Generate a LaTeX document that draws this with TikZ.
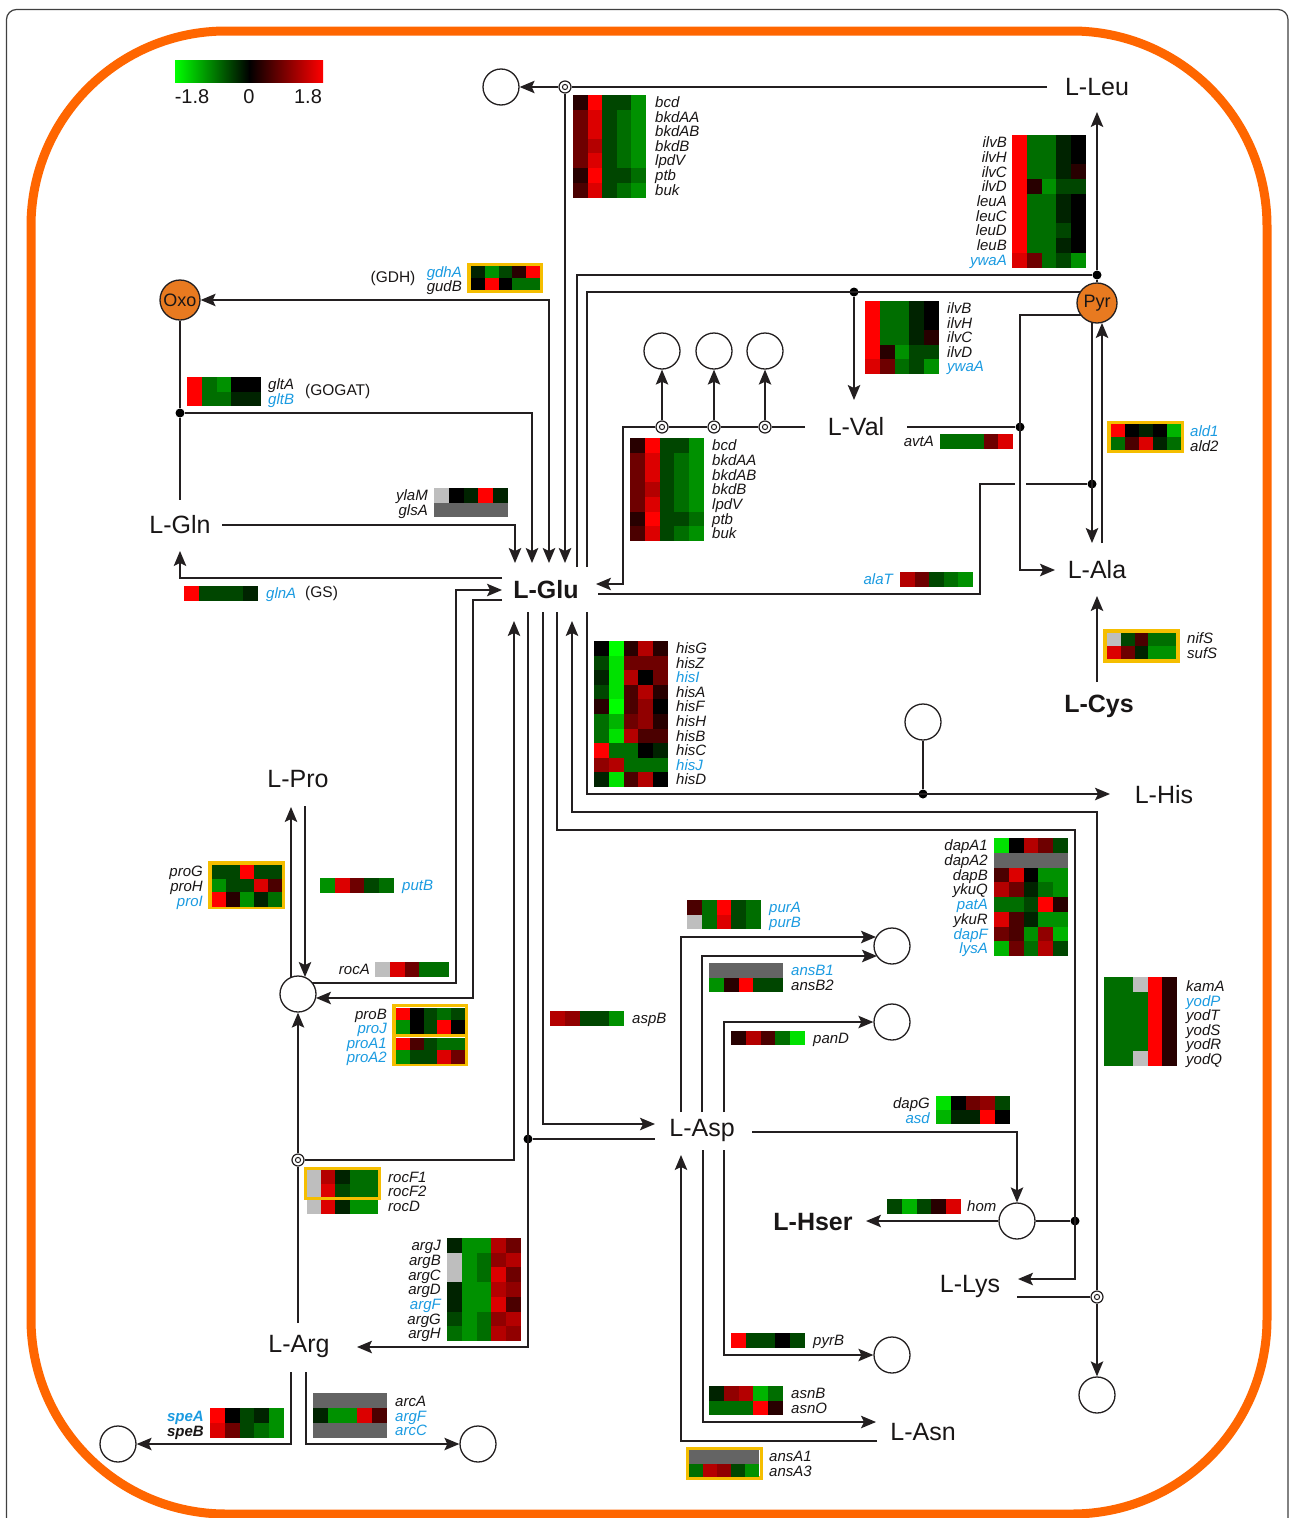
\documentclass[tikz,border=0pt]{standalone}
\usepackage{fontspec}
\setmainfont{Liberation Sans}
\usetikzlibrary{arrows.meta}
\definecolor{cR}{RGB}{255,0,0}
\definecolor{cr2}{RGB}{220,0,0}
\definecolor{cr3}{RGB}{180,0,0}
\definecolor{cr4}{RGB}{145,0,0}
\definecolor{cr5}{RGB}{110,0,0}
\definecolor{cr6}{RGB}{75,0,0}
\definecolor{cr7}{RGB}{40,0,0}
\definecolor{cK}{RGB}{0,0,0}
\definecolor{cg1}{RGB}{0,35,0}
\definecolor{cg2}{RGB}{0,70,0}
\definecolor{cg3}{RGB}{0,110,0}
\definecolor{cg4}{RGB}{0,145,0}
\definecolor{cg5}{RGB}{0,180,0}
\definecolor{cg6}{RGB}{0,225,0}
\definecolor{cG}{RGB}{0,255,0}
\definecolor{cL}{RGB}{190,190,190}
\definecolor{cD}{RGB}{100,100,100}
\definecolor{gk}{RGB}{25,22,22}
\definecolor{gb}{RGB}{27,155,225}
\definecolor{oframe}{RGB}{255,102,0}
\definecolor{pfill}{RGB}{232,122,32}
\definecolor{yfr}{RGB}{245,190,0}
\definecolor{lc}{RGB}{35,31,32}
\newcommand{\heat}[5]{\foreach \row [count=\ri] in {#5}{\foreach \cc [count=\ci] in \row {\fill[\cc] ({#1+(\ci-1)*#3},{#2+(\ri-1)*#4}) rectangle ++({#3+0.4},{#4+0.4});}}}
\newcommand{\genes}[6]{\foreach \cl/\nm [count=\i] in {#6}{\node[gene,text=\cl,anchor=#5] (#1\i) at (#2,{#3+(\i-0.5)*#4}) {\nm};}}
\begin{document}
\begin{tikzpicture}[x=1pt,y=-1pt,
  ln/.style={draw=lc,line width=1.4pt},
  arr/.style={ln,-{Stealth[length=15pt,width=12.5pt,inset=3pt]}},
  dbl/.style={ln,{Stealth[length=15pt,width=12.5pt,inset=3pt]}-{Stealth[length=15pt,width=12.5pt,inset=3pt]}},
  gene/.style={font=\fontsize{15}{15}\selectfont\itshape,inner sep=0pt,text height=10.5pt,text depth=0pt},
  plain/.style={font=\fontsize{15.5}{15}\selectfont,inner sep=0pt,text=gk,text height=10.5pt,text depth=2.5pt},
  met/.style={font=\fontsize{25}{25}\selectfont,inner sep=0pt,text=gk},
  bmet/.style={font=\fontsize{25}{25}\selectfont\bfseries,inner sep=0pt,text=gk},
  pool/.style={circle,draw=lc,line width=1.3pt,fill=white,minimum size=36pt,inner sep=0pt},
  hub/.style={circle,draw=lc,line width=1.3pt,fill=pfill,minimum size=40pt,inner sep=0pt,font=\fontsize{18}{18}\selectfont,text=gk},
  ring/.style={circle,draw=lc,line width=1.2pt,fill=white,minimum size=12pt,inner sep=0pt,
     path picture={\draw[lc,line width=1pt] (path picture bounding box.center) circle (2.6pt);}},
  dot/.style={circle,fill=black,minimum size=9pt,inner sep=0pt},
  yframe/.style={draw=yfr,line width=3.6pt}]
\useasboundingbox (0,0) rectangle (1290,1518);
\fill[white] (0,0) rectangle (1290,1518);
% frames
\draw[draw=black!75,line width=1.2pt,rounded corners=10pt] (6.5,9.5) rectangle (1288,1570);
\draw[draw=oframe,line width=9pt,rounded corners=195pt] (31,31) rectangle (1267,1514);
% legend
\shade[left color=cG,right color=cK] (175,60) rectangle (249.5,82);
\shade[left color=cK,right color=cR] (249,60) rectangle (323,82);
\node[font=\fontsize{20}{20}\selectfont,text=gk,inner sep=0pt] (lg1) at (192,97) {-1.8};
\node[font=\fontsize{20}{20}\selectfont,text=gk,inner sep=0pt] (lg2) at (249,97) {0};
\node[font=\fontsize{20}{20}\selectfont,text=gk,inner sep=0pt] (lg3) at (308,97) {1.8};

% metabolites
\node[met] (Leu) at (1097,87) {L-Leu};
\node[met] (Gln) at (180,525) {L-Gln};
\node[bmet] (Glu) at (546,590) {L-Glu};
\node[met] (Val) at (856,427) {L-Val};
\node[met] (Ala) at (1097,570) {L-Ala};
\node[bmet] (Cys) at (1099,706) {L-Cys};
\node[met] (His) at (1164,795) {L-His};
\node[met] (Pro) at (298,779) {L-Pro};
\node[met] (Asp) at (702,1130) {L-Asp};
\node[bmet] (Hser) at (813,1222) {L-Hser};
\node[met] (Lys) at (970,1286) {L-Lys};
\node[met] (Arg) at (299,1346) {L-Arg};
\node[met] (Asn) at (923,1432) {L-Asn};
\node[hub] (Oxo) at (180,300) {Oxo};
\node[hub] (Pyr) at (1097,303) {Pyr};

% pools
\node[pool] (c1) at (501,87) {};
\node[pool] (c2) at (662,351) {};
\node[pool] (c3) at (714,351) {};
\node[pool] (c4) at (765,351) {};
\node[pool] (c5) at (923,722) {};
\node[pool] (P5C) at (298,994) {};
\node[pool] (c6) at (892,946) {};
\node[pool] (c7) at (892,1022) {};
\node[pool] (c8) at (1017,1221) {};
\node[pool] (c9) at (892,1355) {};
\node[pool] (c10) at (1097,1395) {};
\node[pool] (c11) at (118,1444) {};
\node[pool] (c12) at (478,1444) {};
% rings
\node[ring] (r1) at (565,87) {};
\node[ring] (rV1) at (662,427) {};
\node[ring] (rV2) at (714,427) {};
\node[ring] (rV3) at (765,427) {};
\node[ring] (rA) at (298,1160) {};
\node[ring] (rK) at (1097,1297) {};
% dots
\node[dot] (dG) at (180,413) {};
\node[dot] (dL) at (1097,275) {};
\node[dot] (dV) at (854,292) {};
\node[dot] (dVa) at (1020,427) {};
\node[dot] (dA) at (1092,484) {};
\node[dot] (dH) at (923,794) {};
\node[dot] (dK) at (1075,1221) {};
\node[dot] (dAs) at (528,1139) {};

% coordinates
\coordinate (gT1) at (515,563); \coordinate (gT2) at (532,563);
\coordinate (gT3) at (549,563); \coordinate (gT4) at (565,563);
\coordinate (gT5) at (577,567); \coordinate (gT6) at (587,567);
\coordinate (gB1) at (514,621); \coordinate (gB2) at (528,612);
\coordinate (gB3) at (543,612); \coordinate (gB4) at (557,612);
\coordinate (gB5) at (572,621); \coordinate (gB6) at (587,612);
\coordinate (gL1) at (502,590); \coordinate (gL2) at (502,600);
\coordinate (gL3) at (502,578);
\coordinate (gR1) at (596,584); \coordinate (gR2) at (598,594);
\coordinate (leuW) at (1047,87); \coordinate (leuS) at (1097,112);
\coordinate (pyrW) at (1080,292); \coordinate (pyrS) at (1081,315);
\coordinate (valN) at (854,400); \coordinate (valW) at (805,427); \coordinate (valE) at (907,427);
\coordinate (glnN) at (180,500); \coordinate (glnE) at (222,525); \coordinate (glnS) at (180,551);
\coordinate (alaW) at (1055,570); \coordinate (hop1) at (1015,484); \coordinate (hop2) at (1026,484);
\coordinate (pyrB1) at (1092,322); \coordinate (alaN1) at (1092,543);
\coordinate (alaN2) at (1102,543); \coordinate (pyrB2) at (1102,323);
\coordinate (cysN) at (1097,682); \coordinate (alaS) at (1097,596);
\coordinate (hisW) at (1110,794);
\coordinate (lysE1) at (1018,1279); \coordinate (lysE2) at (1017,1297);
\coordinate (aspW1) at (655,1124); \coordinate (aspW2) at (655,1139);
\coordinate (argE) at (357,1347); \coordinate (argN) at (298,1323);
\coordinate (argS1) at (291,1372); \coordinate (argS2) at (306,1372);
\coordinate (p5cE1) at (312,983); \coordinate (p5cE2) at (316,998);
\coordinate (p5cN1) at (291,977); \coordinate (proS1) at (291,807);
\coordinate (proS2) at (305,806); \coordinate (p5cN2) at (305,977);
\coordinate (aspN1) at (681,1112); \coordinate (aspN2) at (702,1112); \coordinate (aspN3) at (724,1112);
\coordinate (aspS1) at (681,1155); \coordinate (aspS2) at (703,1150); \coordinate (aspS3) at (724,1150);
\coordinate (aspE) at (752,1132);
\coordinate (c6w1) at (876,937); \coordinate (c6w2) at (877,956);
\coordinate (hserE) at (866,1221);
\coordinate (asnW1) at (876,1422); \coordinate (asnW2) at (877,1441);

% connectors
\draw[ln] (leuW) -- (r1);
\draw[arr] (r1) -- (c1);
\draw[arr] (r1) -- (gT4);
\draw[ln] (gT5) -- (577,275) -- (dL);
\draw[arr] (dL) -- (leuS);
\draw[ln] (Pyr) -- (dL);
\draw[ln] (gT6) -- (587,292) -- (pyrW);
\draw[arr] (dV) -- (valN);
\draw[dbl] (Oxo) -- (549,300) -- (gT3);
\draw[ln] (Oxo) -- (dG) -- (glnN);
\draw[arr] (dG) -- (532,413) -- (gT2);
\draw[arr] (glnE) -- (515,525) -- (gT1);
\draw[arr] (gL3) -- (180,578) -- (glnS);
\draw[ln] (valW) -- (rV3);
\draw[ln] (rV3) -- (rV2);
\draw[ln] (rV2) -- (rV1);
\draw[arr] (rV1) -- (623,427) -- (623,584) -- (gR1);
\draw[arr] (rV1) -- (c2);
\draw[arr] (rV2) -- (c3);
\draw[arr] (rV3) -- (c4);
\draw[ln] (valE) -- (dVa);
\draw[arr] (pyrS) -- (1020,315) -- (1020,570) -- (alaW);
\draw[ln] (gR2) -- (980,594) -- (980,484) -- (hop1);
\draw[ln] (hop2) -- (dA);
\draw[arr] (pyrB1) -- (alaN1);
\draw[arr] (alaN2) -- (pyrB2);
\draw[arr] (cysN) -- (alaS);
\draw[arr] (gB6) -- (587,794) -- (hisW);
\draw[ln] (c5) -- (dH);
\draw[arr] (rK) -- (1097,812) -- (572,812) -- (gB5);
\draw[ln] (lysE2) -- (rK);
\draw[arr] (rK) -- (c10);
\draw[arr] (gB4) -- (557,830) -- (1075,830) -- (1075,1279) -- (lysE1);
\draw[ln] (c8) -- (dK);
\draw[arr] (gB3) -- (543,1124) -- (aspW1);
\draw[arr] (gB2) -- (528,1347) -- (argE);
\draw[ln] (dAs) -- (aspW2);
\draw[ln] (argN) -- (rA);
\draw[arr] (rA) -- (P5C);
\draw[arr] (rA) -- (514,1160) -- (gB1);
\draw[arr] (p5cE1) -- (456,983) -- (456,590) -- (gL1);
\draw[arr] (gL2) -- (473,600) -- (473,998) -- (p5cE2);
\draw[arr] (p5cN1) -- (proS1);
\draw[arr] (proS2) -- (p5cN2);
\draw[arr] (aspN1) -- (681,937) -- (c6w1);
\draw[arr] (aspN2) -- (702,956) -- (c6w2);
\draw[arr] (aspN3) -- (724,1022) -- (c7);
\draw[arr] (aspE) -- (1017,1132) -- (c8);
\draw[arr] (c8) -- (hserE);
\draw[arr] (aspS3) -- (724,1355) -- (c9);
\draw[arr] (aspS2) -- (703,1422) -- (asnW1);
\draw[arr] (asnW2) -- (681,1441) -- (aspS1);
\draw[arr] (argS1) -- (291,1444) -- (c11);
\draw[arr] (argS2) -- (306,1444) -- (c12);

% ---------------- heat maps and gene labels
% bcd top
\heat{573}{95}{14.5}{14.6}{{cr7,cR,cg2,cg2,cg4},{cr5,cr2,cg2,cg3,cg4},{cr5,cr2,cg2,cg3,cg4},{cr5,cr3,cg2,cg3,cg4},{cr5,cr2,cg2,cg3,cg4},{cr7,cR,cg2,cg2,cg3},{cr6,cr2,cg2,cg3,cg4}}
\genes{bA}{655}{95}{14.6}{west}{gk/bcd,gk/bkdAA,gk/bkdAB,gk/bkdB,gk/lpdV,gk/ptb,gk/buk}
% bcd middle
\heat{630}{438}{14.8}{14.7}{{cr7,cR,cg2,cg2,cg4},{cr5,cr2,cg2,cg3,cg4},{cr5,cr2,cg2,cg3,cg4},{cr5,cr3,cg2,cg3,cg4},{cr5,cr2,cg2,cg3,cg4},{cr7,cR,cg2,cg2,cg3},{cr6,cr2,cg2,cg3,cg4}}
\genes{bB}{712}{438}{14.7}{west}{gk/bcd,gk/bkdAA,gk/bkdAB,gk/bkdB,gk/lpdV,gk/ptb,gk/buk}
% Leu
\heat{1012}{135}{14.8}{14.7}{{cR,cg3,cg3,cg1,cK},{cR,cg3,cg3,cg1,cK},{cR,cg3,cg3,cg1,cr7},{cR,cr7,cg4,cg2,cg2},{cR,cg3,cg3,cg1,cK},{cR,cg3,cg3,cg1,cK},{cR,cg3,cg3,cg2,cK},{cR,cg3,cg3,cg1,cK},{cr2,cr5,cg3,cg2,cg4}}
\genes{lA}{1007}{135}{14.7}{east}{gk/ilvB,gk/ilvH,gk/ilvC,gk/ilvD,gk/leuA,gk/leuC,gk/leuD,gk/leuB,gb/ywaA}
% Val
\heat{865}{301}{14.8}{14.5}{{cR,cg3,cg3,cg1,cK},{cR,cg3,cg3,cg1,cK},{cR,cg3,cg3,cg1,cr7},{cR,cr7,cg4,cg2,cg2},{cr2,cr5,cg3,cg2,cg4}}
\genes{vA}{947}{301}{14.5}{west}{gk/ilvB,gk/ilvH,gk/ilvC,gk/ilvD,gb/ywaA}
% GDH
\draw[yframe] (469,264.5) rectangle (541.5,291.5);
\heat{471}{266}{13.8}{12}{{cg1,cg4,cg2,cr7,cR},{cK,cR,cK,cg3,cg3}}
\genes{gd}{462}{265}{14}{east}{gb/gdhA,gk/gudB}
\node[plain,anchor=center] (gdh) at (393,278) {(GDH)};
% GOGAT
\heat{187}{377}{14.8}{14.5}{{cR,cg3,cg4,cK,cK},{cR,cg3,cg3,cg1,cg1}}
\genes{gl}{268}{377}{14.5}{west}{gk/gltA,gb/gltB}
\node[plain,anchor=west] (gogat) at (305,391) {(GOGAT)};
% ylaM
\heat{434}{488}{14.8}{14.5}{{cL,cK,cg1,cR,cg1},{cD,cD,cD,cD,cD}}
\genes{yl}{428}{488}{14.5}{east}{gk/ylaM,gk/glsA}
% glnA
\heat{184}{586}{14.8}{14.5}{{cR,cg2,cg2,cg2,cg1}}
\genes{gn}{266}{586}{14.5}{west}{gb/glnA}
\node[plain,anchor=west] (gs) at (305,593) {(GS)};
% avtA
\heat{940}{434}{14.6}{15}{{cg3,cg3,cg3,cr5,cr2}}
\genes{av}{934}{434}{15}{east}{gk/avtA}
% alaT
\heat{900}{572}{14.6}{15}{{cr3,cr5,cg2,cg3,cg4}}
\genes{at}{893}{572}{15}{east}{gb/alaT}
% ald
\draw[yframe] (1109,422.5) rectangle (1182.5,451.5);
\heat{1111}{424}{14}{13}{{cR,cK,cg1,cK,cg5},{cg3,cr6,cr2,cg1,cg3}}
\genes{al}{1190}{424}{14.5}{west}{gb/ald1,gk/ald2}
% nifS
\draw[yframe] (1105,631) rectangle (1178,661);
\heat{1107}{633}{13.8}{13}{{cL,cg2,cr6,cg3,cg3},{cr2,cr5,cg1,cg4,cg4}}
\genes{nf}{1187}{631}{15}{west}{gk/nifS,gk/sufS}
% His
\heat{594}{641}{14.8}{14.6}{{cK,cG,cr7,cr3,cr7},{cg2,cg6,cr5,cr5,cr5},{cg1,cg6,cr3,cK,cr5},{cg2,cg6,cr6,cr3,cr7},{cr7,cG,cr6,cr4,cK},{cg3,cg5,cr5,cr4,cr7},{cg3,cg6,cr3,cr6,cr6},{cR,cg3,cg3,cK,cg1},{cr4,cr3,cg3,cg3,cg3},{cg1,cg6,cr6,cr3,cK}}
\genes{hs}{676}{641}{14.6}{west}{gk/hisG,gk/hisZ,gb/hisI,gk/hisA,gk/hisF,gk/hisH,gk/hisB,gk/hisC,gb/hisJ,gk/hisD}
% dap
\heat{994}{838}{14.8}{14.75}{{cg6,cK,cr3,cr5,cg2},{cD,cD,cD,cD,cD},{cr6,cr2,cK,cg4,cg4},{cr3,cr5,cg1,cg3,cg4},{cg3,cg3,cg2,cR,cr7},{cr2,cr6,cg1,cg4,cg4},{cr5,cr6,cg4,cr4,cg5},{cg5,cr5,cg3,cr3,cg2}}
\genes{dp}{988}{838}{14.75}{east}{gk/dapA1,gk/dapA2,gk/dapB,gk/ykuQ,gb/patA,gk/ykuR,gb/dapF,gb/lysA}
% kamA
\heat{1104}{977}{14.6}{14.8}{{cg3,cg3,cL,cR,cr7},{cg3,cg3,cg3,cR,cr7},{cg3,cg3,cg3,cR,cr7},{cg3,cg3,cg3,cR,cr7},{cg3,cg3,cg3,cR,cr7},{cg3,cg3,cL,cR,cr7}}
\genes{km}{1186}{979}{14.6}{west}{gk/kamA,gb/yodP,gk/yodT,gk/yodS,gk/yodR,gk/yodQ}
% proG
\draw[yframe] (210,863) rectangle (283.5,907.5);
\heat{212}{865}{14}{13.7}{{cg2,cg2,cR,cg2,cg2},{cg4,cg2,cg2,cr2,cr6},{cR,cr7,cg4,cg1,cg3}}
\genes{pg}{203}{864}{14.8}{east}{gk/proG,gk/proH,gb/proI}
% putB
\heat{320}{878}{14.8}{15}{{cg4,cr2,cr5,cg2,cg3}}
\genes{pb}{402}{878}{15}{west}{gb/putB}
% rocA
\heat{375}{962}{14.8}{15}{{cL,cr2,cr5,cg3,cg3}}
\genes{ra}{370}{962}{15}{east}{gk/rocA}
% proB/proA
\draw[yframe] (394,1005.5) rectangle (466.5,1034);
\draw[yframe] (394,1035.5) rectangle (466.5,1064);
\heat{396}{1007.5}{13.8}{12.8}{{cR,cK,cg2,cg3,cg2},{cg4,cK,cg2,cR,cK}}
\heat{396}{1037.5}{13.8}{12.8}{{cR,cr6,cg2,cg3,cg3},{cg4,cg2,cg2,cr2,cr5}}
\genes{pr}{387}{1007}{14.4}{east}{gk/proB,gb/proJ,gb/proA1,gb/proA2}
% rocF / rocD
\draw[yframe] (305.5,1168.5) rectangle (379.5,1198);
\heat{307}{1170}{14.2}{13.5}{{cL,cr3,cg1,cg3,cg3},{cL,cr2,cg2,cg3,cg3}}
\heat{307}{1200}{14.2}{13.5}{{cL,cr2,cg1,cg4,cg4}}
\genes{rf}{388}{1170}{14.4}{west}{gk/rocF1,gk/rocF2,gk/rocD}
% arg
\heat{447}{1238}{14.8}{14.7}{{cg1,cg4,cg4,cr3,cr5},{cL,cg4,cg3,cr4,cr3},{cL,cg4,cg3,cr2,cr5},{cg1,cg4,cg4,cr3,cr4},{cg1,cg4,cg4,cr2,cr6},{cg2,cg4,cg3,cr4,cr3},{cg3,cg4,cg3,cr3,cr4}}
\genes{ag}{441}{1238}{14.7}{east}{gk/argJ,gk/argB,gk/argC,gk/argD,gb/argF,gk/argG,gk/argH}
% spe
\heat{210}{1408}{14.8}{15}{{cR,cK,cg2,cg1,cg4},{cr2,cr5,cg2,cg3,cg4}}
\node[gene,font=\fontsize{15}{15}\selectfont\itshape\bfseries,text=gb,anchor=east] (spA) at (204,1416) {speA};
\node[gene,font=\fontsize{15}{15}\selectfont\itshape\bfseries,text=gk,anchor=east] (spB) at (204,1431) {speB};
% arc
\heat{313}{1393}{14.8}{15}{{cD,cD,cD,cD,cD},{cg1,cg4,cg4,cr2,cr6},{cD,cD,cD,cD,cD}}
\genes{ac}{395}{1394}{14.5}{west}{gk/arcA,gb/argF,gb/arcC}
% pur
\heat{687}{900}{14.8}{14.5}{{cr6,cg3,cR,cg2,cg3},{cL,cg3,cr2,cg2,cg3}}
\genes{pu}{769}{900}{14.5}{west}{gb/purA,gb/purB}
% ansB
\heat{709}{963}{14.8}{14.5}{{cD,cD,cD,cD,cD},{cg4,cr7,cR,cg2,cg2}}
\genes{ab}{791}{963}{14.5}{west}{gb/ansB1,gk/ansB2}
% aspB
\heat{550}{1011}{14.8}{15}{{cr3,cr4,cg2,cg2,cg4}}
\genes{as}{632}{1011}{15}{west}{gk/aspB}
% panD
\heat{731}{1031}{14.8}{14}{{cr7,cr3,cr6,cg3,cg6}}
\genes{pd}{813}{1031}{14}{west}{gk/panD}
% dapG asd
\heat{936}{1096}{14.8}{14}{{cg6,cK,cr5,cr4,cg2},{cg5,cg1,cg1,cR,cK}}
\genes{dg}{930}{1096}{14.5}{east}{gk/dapG,gb/asd}
% hom
\heat{887}{1199}{14.8}{15}{{cg2,cg5,cg2,cr7,cr2}}
\genes{hm}{967}{1199}{15}{west}{gk/hom}
% pyrB
\heat{731}{1333}{14.8}{15}{{cR,cg2,cg2,cK,cg2}}
\genes{py}{813}{1333}{15}{west}{gk/pyrB}
% asn
\heat{709}{1386}{14.8}{14.5}{{cg1,cr4,cr3,cg5,cg3},{cg3,cg3,cg3,cR,cr7}}
\genes{an}{791}{1386}{14.5}{west}{gk/asnB,gk/asnO}
% ansA
\draw[yframe] (687.5,1448.5) rectangle (761.5,1478);
\heat{689}{1450}{14}{13.5}{{cD,cD,cD,cD,cD},{cg3,cr3,cr4,cg2,cg4}}
\genes{aa}{769}{1449}{14.5}{west}{gk/ansA1,gk/ansA3}
\end{tikzpicture}
\end{document}
